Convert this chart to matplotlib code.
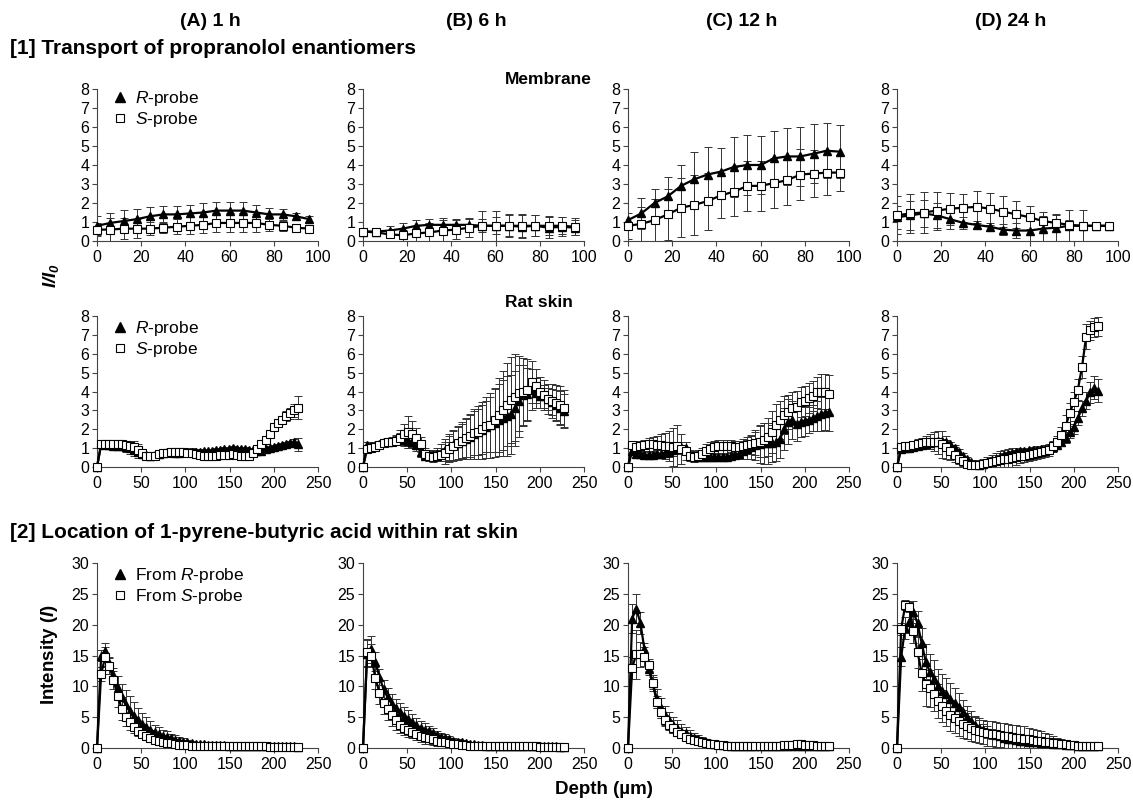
import matplotlib.pyplot as plt
from matplotlib.lines import Line2D

plt.rcParams['font.family'] = ['Liberation Sans', 'DejaVu Sans']
plt.rcParams['mathtext.fontset'] = 'custom'
plt.rcParams['mathtext.rm'] = 'Liberation Sans'
plt.rcParams['mathtext.it'] = 'Liberation Sans:italic'
plt.rcParams['mathtext.bf'] = 'Liberation Sans:italic:bold'

# ---------------- data ----------------
col_titles = ["(A) 1 h", "(B) 6 h", "(C) 12 h", "(D) 24 h"]

depth_membrane = [0, 6, 12, 18, 24, 30, 36, 42, 48, 54, 60, 66, 72, 78, 84, 90, 96]
depth_skin = [0, 4.7, 9.3, 14, 18.6, 23.3, 27.9, 32.6, 37.2, 41.9,
              46.5, 51.2, 55.8, 60.5, 65.1, 69.8, 74.4, 79.1, 83.7, 88.4,
              93, 97.7, 102.3, 107, 111.6, 116.3, 120.9, 125.6, 130.2, 134.9,
              139.5, 144.2, 148.8, 153.5, 158.1, 162.8, 167.4, 172.1, 176.7, 181.4,
              186, 190.7, 195.3, 200, 204.6, 209.3, 213.9, 218.6, 223.2, 227.9]

# [1] membrane, I/I0
mem_R = [
    [0.8, 0.95, 1.05, 1.15, 1.3, 1.4, 1.4, 1.45, 1.5, 1.6, 1.6, 1.6, 1.5, 1.4, 1.4, 1.3, 1.15],
    [0.5, 0.5, 0.55, 0.65, 0.8, 0.85, 0.85, 0.85, 0.85, 0.8, 0.8, 0.8, 0.75, 0.8, 0.7, 0.75, 0.7],
    [1.1, 1.45, 2.0, 2.35, 2.9, 3.25, 3.5, 3.65, 3.9, 4.0, 4.0, 4.35, 4.45, 4.45, 4.6, 4.75, 4.7],
    [1.25, 1.35, 1.45, 1.35, 1.15, 0.95, 0.85, 0.75, 0.6, 0.55, 0.55, 0.65, 0.7, 0.8, 0.8, 0.8, 0.8],
]
mem_R_err = [
    [0.5, 0.55, 0.6, 0.55, 0.5, 0.45, 0.45, 0.45, 0.5, 0.45, 0.45, 0.45, 0.4, 0.35, 0.3, 0.2, 0.15],
    [0.2, 0.2, 0.25, 0.3, 0.3, 0.3, 0.35, 0.3, 0.3, 0.35, 0.45, 0.55, 0.6, 0.55, 0.55, 0.5, 0.4],
    [0.1, 0.8, 0.75, 1.0, 1.1, 1.45, 1.45, 1.25, 1.6, 1.6, 1.55, 1.45, 1.5, 1.55, 1.55, 1.45, 1.4],
    [0.6, 0.75, 0.7, 0.65, 0.5, 0.3, 0.2, 0.2, 0.3, 0.4, 0.6, 0.65, 0.7, 0.85, 0.85, 0.2, 0.1],
]
mem_S = [
    [0.6, 0.6, 0.65, 0.65, 0.65, 0.7, 0.75, 0.8, 0.85, 0.95, 0.95, 0.95, 0.95, 0.85, 0.8, 0.7, 0.65],
    [0.5, 0.45, 0.35, 0.3, 0.4, 0.45, 0.55, 0.6, 0.7, 0.8, 0.8, 0.8, 0.8, 0.8, 0.8, 0.8, 0.75],
    [0.8, 0.9, 1.1, 1.4, 1.75, 1.9, 2.1, 2.4, 2.6, 2.9, 2.9, 3.05, 3.2, 3.5, 3.55, 3.6, 3.6],
    [1.35, 1.45, 1.5, 1.6, 1.7, 1.75, 1.8, 1.7, 1.55, 1.4, 1.25, 1.05, 0.95, 0.85, 0.8, 0.8, 0.8],
]
mem_S_err = [
    [0.35, 0.6, 0.55, 0.5, 0.35, 0.3, 0.4, 0.45, 0.45, 0.5, 0.5, 0.5, 0.45, 0.3, 0.25, 0.2, 0.2],
    [0.2, 0.2, 0.2, 0.3, 0.4, 0.5, 0.55, 0.5, 0.5, 0.8, 0.8, 0.6, 0.6, 0.55, 0.5, 0.45, 0.45],
    [0.7, 0.9, 1.1, 1.35, 1.55, 1.6, 1.5, 1.2, 1.3, 1.3, 1.3, 1.3, 1.3, 1.35, 1.25, 1.2, 0.95],
    [1.0, 1.05, 1.1, 1.0, 0.85, 0.75, 0.85, 0.85, 0.8, 0.7, 0.6, 0.5, 0.4, 0.25, 0.2, 0.1, 0.1],
]

# [1] rat skin, I/I0
skin_R = [
    [0, 1.2, 1.15, 1.15, 1.1, 1.1, 1.1, 1.05, 1.0, 0.9,
     0.8, 0.7, 0.65, 0.6, 0.65, 0.7, 0.75, 0.8, 0.8, 0.75,
     0.75, 0.8, 0.8, 0.8, 0.8, 0.8, 0.85, 0.85, 0.85, 0.9,
     0.9, 0.95, 0.95, 1.0, 0.95, 0.95, 0.95, 0.9, 0.9, 0.85,
     0.85, 0.95, 1.0, 1.05, 1.1, 1.15, 1.2, 1.25, 1.3, 1.2],
    [0, 1.15, 1.1, 1.15, 1.2, 1.3, 1.35, 1.4, 1.45, 1.5,
     1.45, 1.4, 1.3, 1.15, 0.8, 0.6, 0.6, 0.65, 0.7, 0.75,
     0.9, 1.05, 1.15, 1.25, 1.4, 1.5, 1.6, 1.75, 1.85, 1.95,
     2.1, 2.2, 2.35, 2.5, 2.6, 2.7, 2.8, 3.1, 3.5, 3.8,
     3.85, 4.1, 3.9, 3.75, 3.75, 3.6, 3.45, 3.3, 3.15, 2.95],
    [0, 0.85, 0.7, 0.7, 0.65, 0.65, 0.65, 0.7, 0.7, 0.75,
     0.8, 0.9, 1.0, 1.05, 1.0, 0.6, 0.55, 0.55, 0.55, 0.55,
     0.55, 0.55, 0.55, 0.55, 0.55, 0.6, 0.65, 0.7, 0.85, 0.95,
     1.05, 1.15, 1.2, 1.25, 1.25, 1.25, 1.3, 1.5, 2.0, 2.4,
     2.5, 2.3, 2.4, 2.45, 2.5, 2.6, 2.7, 2.8, 2.85, 2.9],
    [0, 0.95, 1.0, 1.0, 1.05, 1.1, 1.15, 1.2, 1.25, 1.3,
     1.4, 1.4, 1.35, 1.2, 1.0, 0.8, 0.6, 0.4, 0.25, 0.15,
     0.1, 0.15, 0.25, 0.35, 0.45, 0.55, 0.65, 0.7, 0.75, 0.8,
     0.85, 0.85, 0.9, 0.9, 0.9, 0.95, 0.95, 1.0, 1.05, 1.15,
     1.3, 1.55, 1.85, 2.1, 2.6, 3.1, 3.5, 3.95, 4.2, 4.05],
]
skin_R_err = [
    [0, 0.15, 0.1, 0.1, 0.1, 0.15, 0.2, 0.25, 0.3, 0.3,
     0.3, 0.2, 0.15, 0.1, 0.1, 0.1, 0.15, 0.15, 0.15, 0.15,
     0.15, 0.2, 0.2, 0.2, 0.15, 0.1, 0.1, 0.1, 0.1, 0.1,
     0.1, 0.1, 0.1, 0.1, 0.1, 0.1, 0.1, 0.1, 0.1, 0.1,
     0.1, 0.1, 0.1, 0.1, 0.1, 0.1, 0.1, 0.15, 0.2, 0.35],
    [0, 0.15, 0.15, 0.15, 0.15, 0.2, 0.2, 0.2, 0.25, 0.3,
     0.35, 0.4, 0.3, 0.3, 0.25, 0.2, 0.2, 0.25, 0.3, 0.45,
     0.6, 0.7, 0.8, 0.9, 1.0, 1.1, 1.2, 1.3, 1.4, 1.5,
     1.6, 1.7, 1.8, 1.9, 2.0, 2.1, 2.1, 2.0, 1.9, 1.6,
     1.4, 1.1, 0.8, 0.6, 0.6, 0.6, 0.7, 0.8, 0.9, 0.9],
    [0, 0.15, 0.15, 0.15, 0.15, 0.2, 0.2, 0.2, 0.2, 0.2,
     0.25, 0.3, 0.3, 0.3, 0.3, 0.2, 0.15, 0.15, 0.15, 0.15,
     0.15, 0.15, 0.15, 0.15, 0.2, 0.2, 0.25, 0.3, 0.4, 0.5,
     0.6, 0.8, 1.0, 1.1, 1.1, 1.0, 1.0, 1.0, 1.1, 1.2,
     1.0, 0.9, 0.8, 0.8, 0.7, 0.7, 0.8, 0.9, 0.9, 1.0],
    [0, 0.15, 0.15, 0.15, 0.15, 0.15, 0.15, 0.15, 0.15, 0.15,
     0.1, 0.1, 0.1, 0.15, 0.15, 0.15, 0.15, 0.15, 0.1, 0.1,
     0.1, 0.1, 0.1, 0.1, 0.1, 0.1, 0.1, 0.1, 0.1, 0.1,
     0.1, 0.1, 0.1, 0.1, 0.15, 0.15, 0.15, 0.15, 0.2, 0.2,
     0.2, 0.3, 0.3, 0.35, 0.35, 0.4, 0.45, 0.55, 0.6, 0.6],
]
skin_S = [
    [0, 1.2, 1.2, 1.2, 1.2, 1.2, 1.2, 1.15, 1.1, 1.05,
     0.9, 0.75, 0.6, 0.6, 0.6, 0.7, 0.75, 0.75, 0.8, 0.8,
     0.8, 0.8, 0.75, 0.75, 0.7, 0.65, 0.6, 0.6, 0.6, 0.6,
     0.65, 0.65, 0.65, 0.7, 0.65, 0.6, 0.6, 0.6, 0.75, 0.95,
     1.2, 1.45, 1.75, 2.1, 2.35, 2.5, 2.7, 2.85, 3.0, 3.15],
    [0, 0.95, 1.0, 1.05, 1.15, 1.25, 1.3, 1.35, 1.4, 1.55,
     1.75, 1.85, 1.75, 1.55, 1.2, 0.7, 0.6, 0.55, 0.6, 0.65,
     0.75, 0.95, 1.1, 1.25, 1.4, 1.55, 1.65, 1.8, 1.85, 2.0,
     2.15, 2.25, 2.5, 2.75, 3.0, 3.3, 3.55, 3.7, 3.9, 3.95,
     4.1, 4.5, 4.3, 3.95, 3.8, 3.6, 3.5, 3.4, 3.3, 3.1],
    [0, 1.15, 1.05, 1.1, 1.15, 1.2, 1.2, 1.15, 1.15, 1.1,
     1.1, 1.05, 1.1, 0.95, 0.85, 0.6, 0.55, 0.6, 0.7, 0.85,
     0.95, 1.05, 1.1, 1.1, 1.1, 1.1, 1.05, 1.05, 1.1, 1.15,
     1.2, 1.25, 1.35, 1.45, 1.6, 1.85, 2.25, 2.5, 2.75, 2.9,
     3.1, 3.2, 3.45, 3.5, 3.65, 3.75, 3.95, 4.0, 4.0, 3.85],
    [0, 1.05, 1.1, 1.1, 1.15, 1.2, 1.25, 1.3, 1.35, 1.35,
     1.3, 1.2, 1.05, 0.85, 0.65, 0.45, 0.3, 0.15, 0.1, 0.1,
     0.1, 0.15, 0.2, 0.25, 0.3, 0.35, 0.4, 0.45, 0.5, 0.55,
     0.6, 0.6, 0.65, 0.7, 0.75, 0.8, 0.85, 0.9, 1.1, 1.35,
     1.7, 2.15, 2.85, 3.45, 4.1, 5.3, 6.9, 7.25, 7.4, 7.45],
]
skin_S_err = [
    [0, 0.15, 0.15, 0.15, 0.15, 0.2, 0.2, 0.25, 0.3, 0.35,
     0.3, 0.2, 0.1, 0.1, 0.1, 0.1, 0.1, 0.1, 0.1, 0.15,
     0.2, 0.2, 0.15, 0.15, 0.1, 0.1, 0.1, 0.1, 0.1, 0.1,
     0.1, 0.1, 0.1, 0.1, 0.1, 0.1, 0.1, 0.15, 0.2, 0.2,
     0.15, 0.15, 0.15, 0.2, 0.2, 0.2, 0.25, 0.3, 0.35, 0.6],
    [0, 0.1, 0.1, 0.1, 0.15, 0.15, 0.2, 0.2, 0.25, 0.4,
     0.55, 0.85, 0.7, 0.5, 0.4, 0.3, 0.3, 0.3, 0.3, 0.35,
     0.6, 0.7, 0.8, 0.85, 0.9, 1.0, 1.1, 1.15, 1.2, 1.3,
     1.35, 1.45, 1.7, 1.95, 2.1, 2.2, 2.3, 2.3, 2.0, 1.8,
     1.6, 1.1, 0.9, 0.8, 0.8, 0.8, 0.9, 0.95, 1.0, 1.0],
    [0, 0.2, 0.25, 0.3, 0.3, 0.35, 0.4, 0.5, 0.6, 0.7,
     0.8, 1.0, 1.1, 0.8, 0.5, 0.3, 0.3, 0.3, 0.3, 0.35,
     0.35, 0.35, 0.35, 0.35, 0.35, 0.35, 0.35, 0.35, 0.4, 0.45,
     0.5, 0.6, 0.8, 0.9, 1.0, 1.1, 1.1, 1.0, 1.0, 0.9,
     0.9, 0.85, 0.8, 0.8, 0.8, 0.8, 0.8, 0.95, 0.95, 1.05],
    [0, 0.2, 0.2, 0.25, 0.25, 0.3, 0.3, 0.35, 0.4, 0.5,
     0.6, 0.7, 0.6, 0.5, 0.4, 0.3, 0.25, 0.2, 0.2, 0.2,
     0.25, 0.3, 0.35, 0.4, 0.45, 0.5, 0.5, 0.5, 0.5, 0.45,
     0.4, 0.35, 0.35, 0.35, 0.35, 0.3, 0.3, 0.3, 0.3, 0.3,
     0.4, 0.6, 0.55, 0.5, 0.55, 0.6, 0.65, 0.5, 0.5, 0.5],
]

# [2] 1-pyrene-butyric acid, intensity I
pba_R = [
    [0, 15.0, 15.7, 13.8, 11.8, 9.8, 8.2, 7.0, 6.0, 5.2,
     4.5, 3.9, 3.4, 3.0, 2.6, 2.3, 2.0, 1.8, 1.55, 1.35,
     1.2, 1.05, 0.9, 0.8, 0.7, 0.65, 0.6, 0.55, 0.5, 0.5,
     0.45, 0.45, 0.4, 0.4, 0.4, 0.35, 0.35, 0.35, 0.3, 0.3,
     0.3, 0.3, 0.3, 0.3, 0.3, 0.3, 0.3, 0.25, 0.25, 0.2],
    [0, 15.3, 16.0, 14.0, 11.5, 9.5, 8.2, 7.2, 6.5, 5.8,
     5.2, 4.7, 4.2, 3.7, 3.3, 3.0, 2.7, 2.4, 2.1, 1.8,
     1.6, 1.4, 1.2, 1.05, 0.9, 0.8, 0.7, 0.6, 0.5, 0.45,
     0.4, 0.4, 0.35, 0.35, 0.3, 0.3, 0.3, 0.3, 0.3, 0.3,
     0.3, 0.3, 0.25, 0.25, 0.25, 0.25, 0.25, 0.25, 0.2, 0.2],
    [0, 21.0, 22.6, 20.3, 16.0, 12.8, 10.5, 8.0, 6.5, 5.3,
     4.5, 3.8, 3.3, 2.8, 2.4, 2.0, 1.7, 1.4, 1.2, 1.0,
     0.85, 0.7, 0.6, 0.5, 0.45, 0.4, 0.35, 0.3, 0.3, 0.3,
     0.3, 0.3, 0.3, 0.3, 0.3, 0.3, 0.3, 0.3, 0.3, 0.35,
     0.35, 0.35, 0.35, 0.4, 0.4, 0.4, 0.35, 0.35, 0.3, 0.3],
    [0, 14.8, 19.5, 20.5, 22.0, 20.2, 17.0, 14.0, 12.3, 11.2,
     10.0, 9.3, 8.7, 8.0, 7.3, 6.6, 5.8, 5.0, 4.4, 3.8,
     3.3, 2.9, 2.6, 2.3, 2.1, 1.9, 1.7, 1.5, 1.4, 1.3,
     1.2, 1.1, 1.0, 0.95, 0.9, 0.85, 0.8, 0.75, 0.7, 0.65,
     0.6, 0.55, 0.5, 0.45, 0.4, 0.35, 0.3, 0.3, 0.3, 0.3],
]
pba_R_err = [
    [0, 0.9, 1.4, 1.0, 1.2, 1.8, 2.2, 2.4, 2.4, 2.2,
     2.0, 1.8, 1.6, 1.4, 1.2, 1.1, 1.0, 0.9, 0.8, 0.7,
     0.6, 0.5, 0.45, 0.4, 0.35, 0.3, 0.3, 0.25, 0.25, 0.2,
     0.2, 0.2, 0.2, 0.2, 0.2, 0.2, 0.2, 0.2, 0.2, 0.2,
     0.2, 0.2, 0.2, 0.2, 0.2, 0.2, 0.2, 0.2, 0.2, 0.2],
    [0, 2.2, 2.2, 1.5, 1.3, 1.5, 1.6, 1.6, 1.5, 1.5,
     1.5, 1.4, 1.3, 1.2, 1.1, 1.0, 0.9, 0.8, 0.7, 0.65,
     0.6, 0.5, 0.45, 0.4, 0.35, 0.3, 0.3, 0.25, 0.2, 0.2,
     0.2, 0.2, 0.2, 0.2, 0.2, 0.2, 0.2, 0.2, 0.2, 0.2,
     0.2, 0.2, 0.2, 0.2, 0.2, 0.2, 0.2, 0.2, 0.2, 0.2],
    [0, 2.4, 2.4, 1.8, 1.1, 1.0, 1.3, 1.5, 1.6, 1.5,
     1.4, 1.3, 1.2, 1.1, 1.0, 0.9, 0.8, 0.7, 0.6, 0.5,
     0.45, 0.4, 0.35, 0.3, 0.3, 0.25, 0.2, 0.2, 0.2, 0.2,
     0.2, 0.2, 0.2, 0.2, 0.2, 0.2, 0.2, 0.2, 0.2, 0.2,
     0.2, 0.2, 0.2, 0.2, 0.2, 0.2, 0.2, 0.2, 0.2, 0.2],
    [0, 1.5, 1.8, 1.8, 1.8, 2.0, 2.5, 2.8, 3.0, 3.0,
     2.8, 2.7, 2.6, 2.5, 2.4, 2.3, 2.0, 1.8, 1.6, 1.4,
     1.2, 1.0, 0.9, 0.8, 0.7, 0.6, 0.55, 0.5, 0.45, 0.4,
     0.35, 0.35, 0.35, 0.35, 0.35, 0.35, 0.35, 0.35, 0.35, 0.35,
     0.3, 0.3, 0.3, 0.3, 0.3, 0.3, 0.3, 0.3, 0.3, 0.3],
]
pba_S = [
    [0, 12.0, 14.8, 13.3, 11.0, 8.5, 6.4, 5.0, 4.2, 3.4,
     2.8, 2.3, 1.9, 1.6, 1.35, 1.15, 1.0, 0.85, 0.75, 0.65,
     0.55, 0.5, 0.45, 0.4, 0.35, 0.35, 0.3, 0.3, 0.3, 0.3,
     0.25, 0.25, 0.25, 0.25, 0.25, 0.25, 0.25, 0.25, 0.25, 0.25,
     0.25, 0.25, 0.2, 0.2, 0.2, 0.2, 0.2, 0.2, 0.2, 0.2],
    [0, 15.5, 15.0, 11.3, 9.0, 7.3, 6.3, 5.3, 4.5, 3.8,
     3.3, 2.9, 2.6, 2.3, 2.0, 1.8, 1.6, 1.4, 1.2, 1.05,
     0.9, 0.8, 0.7, 0.6, 0.5, 0.45, 0.4, 0.35, 0.35, 0.3,
     0.3, 0.3, 0.3, 0.3, 0.3, 0.25, 0.25, 0.25, 0.25, 0.25,
     0.25, 0.25, 0.25, 0.2, 0.2, 0.2, 0.2, 0.2, 0.2, 0.2],
    [0, 13.0, 15.2, 15.2, 14.8, 13.5, 10.5, 7.5, 5.8, 4.5,
     3.8, 3.2, 2.6, 2.2, 1.8, 1.5, 1.3, 1.1, 0.9, 0.8,
     0.7, 0.6, 0.5, 0.45, 0.4, 0.4, 0.35, 0.35, 0.35, 0.35,
     0.35, 0.35, 0.35, 0.35, 0.35, 0.35, 0.35, 0.4, 0.45, 0.5,
     0.55, 0.6, 0.6, 0.55, 0.5, 0.45, 0.4, 0.35, 0.3, 0.3],
    [0, 19.3, 23.2, 22.8, 19.0, 15.5, 12.2, 10.3, 9.7, 8.8,
     7.6, 6.8, 6.0, 5.3, 4.8, 4.3, 3.9, 3.5, 3.2, 3.0,
     2.8, 2.6, 2.4, 2.3, 2.2, 2.1, 2.0, 1.9, 1.8, 1.7,
     1.6, 1.5, 1.4, 1.3, 1.2, 1.1, 1.0, 0.9, 0.8, 0.75,
     0.7, 0.6, 0.5, 0.45, 0.4, 0.35, 0.3, 0.3, 0.3, 0.3],
]
pba_S_err = [
    [0, 1.2, 1.5, 1.3, 1.5, 1.8, 1.8, 1.5, 1.2, 1.0,
     0.8, 0.7, 0.6, 0.5, 0.45, 0.4, 0.35, 0.3, 0.3, 0.25,
     0.25, 0.2, 0.2, 0.2, 0.15, 0.15, 0.15, 0.15, 0.15, 0.15,
     0.15, 0.15, 0.15, 0.15, 0.15, 0.15, 0.15, 0.15, 0.15, 0.15,
     0.15, 0.15, 0.15, 0.15, 0.15, 0.15, 0.15, 0.15, 0.15, 0.15],
    [0, 2.2, 1.8, 1.8, 1.8, 1.8, 1.8, 1.7, 1.5, 1.4,
     1.2, 1.1, 1.0, 1.0, 1.1, 1.1, 1.0, 0.9, 0.8, 0.7,
     0.6, 0.5, 0.4, 0.35, 0.3, 0.3, 0.25, 0.25, 0.2, 0.2,
     0.15, 0.15, 0.15, 0.15, 0.15, 0.15, 0.15, 0.15, 0.15, 0.15,
     0.15, 0.15, 0.15, 0.15, 0.15, 0.15, 0.15, 0.15, 0.15, 0.15],
    [0, 1.8, 4.0, 2.0, 1.5, 1.0, 1.0, 1.0, 1.0, 0.9,
     0.8, 0.7, 0.6, 0.5, 0.45, 0.4, 0.35, 0.3, 0.3, 0.25,
     0.2, 0.2, 0.2, 0.2, 0.2, 0.2, 0.2, 0.2, 0.2, 0.2,
     0.2, 0.2, 0.2, 0.2, 0.2, 0.2, 0.2, 0.2, 0.2, 0.2,
     0.2, 0.2, 0.2, 0.2, 0.2, 0.2, 0.2, 0.2, 0.2, 0.2],
    [0, 1.0, 0.8, 0.8, 2.0, 2.5, 3.0, 3.5, 3.0, 2.8,
     2.8, 2.6, 2.5, 2.5, 2.4, 2.3, 2.2, 2.1, 2.0, 2.0,
     2.0, 2.0, 2.0, 2.0, 2.0, 2.0, 2.0, 2.0, 2.0, 2.0,
     2.0, 2.0, 1.9, 1.8, 1.7, 1.6, 1.5, 1.3, 1.1, 0.9,
     0.8, 0.7, 0.6, 0.5, 0.4, 0.35, 0.3, 0.25, 0.2, 0.2],
]

# ---------------- figure ----------------
W, H = 1133, 802
fig = plt.figure(figsize=(W / 100, H / 100), dpi=100)

col_left = [97, 363, 628, 897]
ax_w = 221
rows_px = [(89, 152), (316, 151), (563, 185)]   # (top, height) in pixels


def add_ax(left, top, width, height):
    return fig.add_axes([left / W, 1 - (top + height) / H, width / W, height / H])


def style_ax(ax, xmax, xstep, ymax, ystep):
    ax.set_xlim(0, xmax)
    ax.set_ylim(0, ymax)
    ax.set_xticks(range(0, xmax + 1, xstep))
    ax.set_yticks(range(0, ymax + 1, ystep))
    ax.spines['top'].set_visible(False)
    ax.spines['right'].set_visible(False)
    for s in ['left', 'bottom']:
        ax.spines[s].set_color('#444444')
        ax.spines[s].set_linewidth(0.8)
    ax.tick_params(direction='out', length=3.6, width=0.8, color='#444444',
                   labelsize=11.5)
    ax.tick_params(axis='y', pad=2)
    ax.tick_params(axis='x', pad=3)
    ax.patch.set_visible(False)


def draw_series(ax, x, r, r_err, s, s_err):
    ax.errorbar(x, r, yerr=r_err, fmt='none', ecolor='#333333',
                elinewidth=0.7, capsize=3, capthick=0.7, zorder=2)
    ax.errorbar(x, s, yerr=s_err, fmt='none', ecolor='#333333',
                elinewidth=0.7, capsize=3, capthick=0.7, zorder=2)
    ax.plot(x, r, color='black', lw=1.6, marker='^', ms=5.8, clip_on=False, zorder=3)
    ax.plot(x, s, color='black', lw=1.6, marker='s', ms=5.2, mfc='white',
            mec='black', mew=0.8, clip_on=False, zorder=4)


def add_legend(ax, labels, y_anchor):
    handles = [
        Line2D([], [], ls='none', marker='^', color='black', ms=6.5),
        Line2D([], [], ls='none', marker='s', mfc='white', mec='black', mew=0.8, ms=6),
    ]
    ax.legend(handles, labels, loc='upper left', bbox_to_anchor=(0.074, y_anchor),
              frameon=False, fontsize=12.5, handlelength=0.8, handletextpad=0.45,
              labelspacing=0.12, borderpad=0, borderaxespad=0)


for c in range(4):
    # row 1: membrane
    ax = add_ax(col_left[c], rows_px[0][0], ax_w, rows_px[0][1])
    style_ax(ax, 100, 20, 8, 1)
    draw_series(ax, depth_membrane, mem_R[c], mem_R_err[c], mem_S[c], mem_S_err[c])
    if c == 0:
        add_legend(ax, ['$\\it{R}$-probe', '$\\it{S}$-probe'], 1.0)

    # row 2: rat skin
    ax = add_ax(col_left[c], rows_px[1][0], ax_w, rows_px[1][1])
    style_ax(ax, 250, 50, 8, 1)
    draw_series(ax, depth_skin, skin_R[c], skin_R_err[c], skin_S[c], skin_S_err[c])
    if c == 0:
        add_legend(ax, ['$\\it{R}$-probe', '$\\it{S}$-probe'], 0.98)

    # row 3: intensity
    ax = add_ax(col_left[c], rows_px[2][0], ax_w, rows_px[2][1])
    style_ax(ax, 250, 50, 30, 5)
    draw_series(ax, depth_skin, pba_R[c], pba_R_err[c], pba_S[c], pba_S_err[c])
    if c == 0:
        add_legend(ax, ['From $\\it{R}$-probe', 'From $\\it{S}$-probe'], 0.985)

    fig.text((col_left[c] + ax_w / 2 + 3) / W, 1 - 22 / H, col_titles[c],
             ha='center', va='center', fontsize=14, fontweight='bold')

fig.text(10 / W, 1 - 48 / H, '[1] Transport of propranolol enantiomers',
         ha='left', va='center', fontsize=15, fontweight='bold')
fig.text(505 / W, 1 - 80 / H, 'Membrane', ha='left', va='center',
         fontsize=12.5, fontweight='bold')
fig.text(505 / W, 1 - 303 / H, 'Rat skin', ha='left', va='center',
         fontsize=12.5, fontweight='bold')
fig.text(10 / W, 1 - 532 / H, '[2] Location of 1-pyrene-butyric acid within rat skin',
         ha='left', va='center', fontsize=15, fontweight='bold')
fig.text(51 / W, 1 - 276 / H, '$\\mathbf{I/I}_\\mathbf{0}$', ha='center', va='center',
         rotation=90, fontsize=13.5)
fig.text(50 / W, 1 - 654 / H, 'Intensity ($\\mathbf{I}$)', ha='center', va='center',
         rotation=90, fontsize=13.5, fontweight='bold')
fig.text(604 / W, 1 - 790 / H, 'Depth (\u00b5m)', ha='center', va='center',
         fontsize=13.5, fontweight='bold')

fig.savefig('out.png', dpi=100)
